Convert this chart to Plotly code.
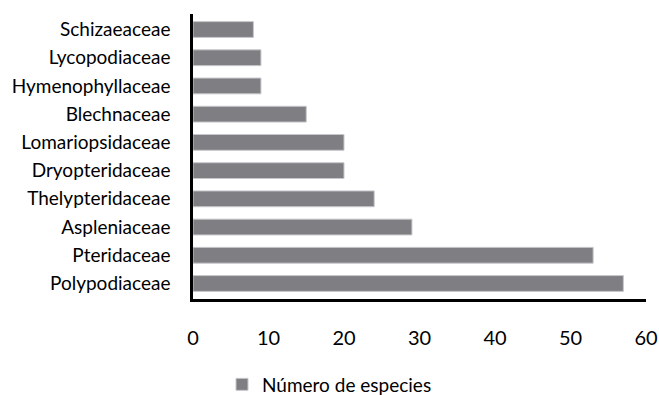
import plotly.graph_objects as go

# Fern families and their species counts
familias = ["Schizaeaceae", "Lycopodiaceae", "Hymenophyllaceae", "Blechnaceae",
            "Lomariopsidaceae", "Dryopteridaceae", "Thelypteridaceae",
            "Aspleniaceae", "Pteridaceae", "Polypodiaceae"]
especies = [8, 9, 9, 15, 20, 20, 24, 29, 53, 57]
x_ticks = [0, 10, 20, 30, 40, 50, 60]

FONT = "Lato, 'Open Sans', sans-serif"

fig = go.Figure(
    go.Bar(
        y=familias,
        x=especies,
        orientation="h",
        name="Número de especies",
        marker=dict(color="#7e7e83", line=dict(color="#c8c8cc", width=1)),
        showlegend=True,
    )
)

fig.update_layout(
    width=659,
    height=395,
    margin=dict(l=193, r=13, t=14, b=96, autoexpand=False),
    paper_bgcolor="white",
    plot_bgcolor="white",
    bargap=0.44,
    font=dict(family=FONT, size=19, color="#000000"),
    legend=dict(
        orientation="h",
        xref="container", yref="paper",
        x=0.50, y=-0.30, xanchor="center", yanchor="middle",
        font=dict(size=19),
        itemwidth=30,
    ),
)

fig.update_xaxes(
    range=[0, 60],
    tickvals=x_ticks,
    automargin=False,
    showgrid=False,
    zeroline=False,
    showline=True,
    linecolor="black",
    linewidth=2.5,
    ticks="",
    ticklabelstandoff=19,
    tickfont=dict(size=20),
)

fig.update_yaxes(
    categoryorder="array",
    categoryarray=familias[::-1],
    range=[-0.55, 9.55],
    automargin=False,
    showgrid=False,
    zeroline=False,
    showline=True,
    linecolor="black",
    linewidth=2.5,
    ticks="",
    ticklabelstandoff=16,
    tickfont=dict(size=19),
)

fig.write_html("out.html")
